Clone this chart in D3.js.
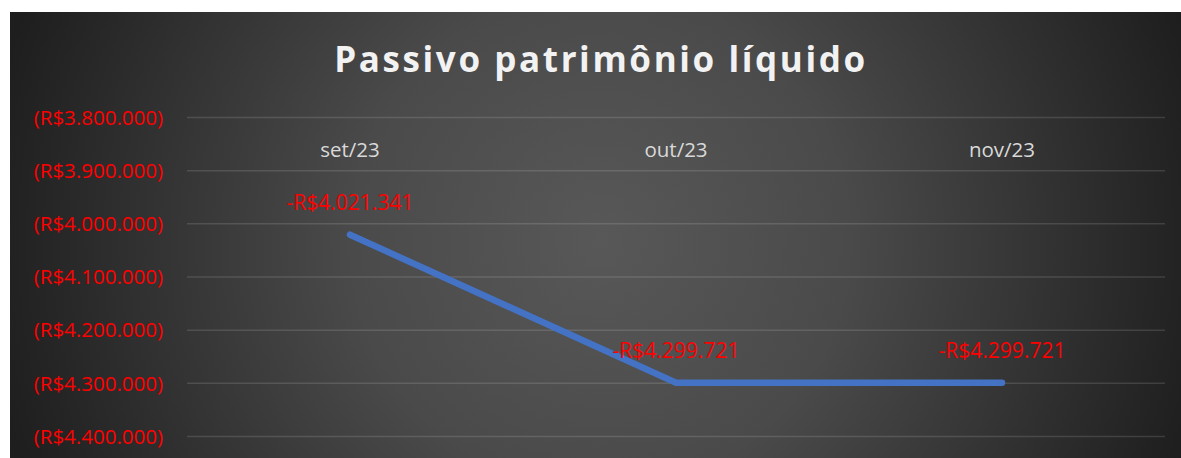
<!DOCTYPE html>
<html>
<head>
<script src="https://d3js.org/d3.v7.min.js"></script>
<style>
  body { margin: 0; background: #fff; }
  text { font-family: "Open Sans", "Noto Sans", sans-serif; }
</style>
</head>
<body>
<script>

var months = ["set/23", "out/23", "nov/23"];
var values = [-4021341, -4299721, -4299721];
var yTicks = [-3800000, -3900000, -4000000, -4100000, -4200000, -4300000, -4400000];
var chartTitle = "Passivo patrimônio líquido";

var W = 1181, H = 458;
var plot = {left: 187, right: 1165, top: 117, bottom: 436};

var svg = d3.select("body").append("svg")
    .attr("width", W)
    .attr("height", H);

// radial background like the excel style
var defs = svg.append("defs");
var grad = defs.append("radialGradient")
    .attr("id", "bg")
    .attr("gradientUnits", "userSpaceOnUse")
    .attr("cx", 600).attr("cy", 240).attr("r", 620);
grad.append("stop").attr("offset", "0%").attr("stop-color", "#585858");
grad.append("stop").attr("offset", "40%").attr("stop-color", "#4a4a4a");
grad.append("stop").attr("offset", "100%").attr("stop-color", "#1e1e1e");

svg.append("rect")
    .attr("x", 10).attr("y", 12)
    .attr("width", W - 10).attr("height", H - 12)
    .attr("fill", "url(#bg)");

var x = d3.scaleBand()
    .domain(months)
    .range([plot.left, plot.right]);

var y = d3.scaleLinear()
    .domain([-3800000, -4400000])
    .range([plot.top, plot.bottom]);

var fmtNum = d3.formatLocale({decimal: ",", thousands: ".", grouping: [3], currency: ["R$", ""]});
var fmt = fmtNum.format(",.0f");

// grid lines + y labels
var yAxis = d3.axisLeft(y)
    .tickValues(yTicks)
    .tickSize(-(plot.right - plot.left))
    .tickPadding(24)
    .tickFormat(function(d) { return "(R$" + fmt(Math.abs(d)) + ")"; });

var gy = svg.append("g")
    .attr("transform", "translate(" + plot.left + ",0)")
    .call(yAxis);
gy.select(".domain").remove();
gy.selectAll(".tick line")
    .attr("stroke", "#ffffff")
    .attr("stroke-opacity", 0.13)
    .attr("stroke-width", 1.5);
gy.selectAll(".tick text")
    .attr("fill", "#ff0000")
    .attr("font-size", 20.5)
    .attr("dy", "0.35em");

// category labels (axis sits on top since values are negative)
var xAxis = d3.axisTop(x).tickSize(0).tickPadding(0);
var gx = svg.append("g")
    .attr("transform", "translate(0,157)")
    .call(xAxis);
gx.select(".domain").remove();
gx.selectAll(".tick text")
    .attr("fill", "#d9d9d9")
    .attr("font-size", 20.5)
    .attr("dy", 0);

var line = d3.line()
    .x(function(d, i) { return x(months[i]) + x.bandwidth() / 2; })
    .y(function(d) { return y(d); });

svg.append("path")
    .datum(values)
    .attr("d", line)
    .attr("fill", "none")
    .attr("stroke", "#4472c4")
    .attr("stroke-width", 6.5)
    .attr("stroke-linecap", "round")
    .attr("stroke-linejoin", "miter");

svg.selectAll(".lbl")
    .data(values).enter()
    .append("text")
    .attr("class", "lbl")
    .attr("x", function(d, i) { return x(months[i]) + x.bandwidth() / 2; })
    .attr("y", function(d) { return y(d) - 25; })
    .attr("text-anchor", "middle")
    .attr("fill", "#ff0000")
    .attr("font-size", 21)
    .text(function(d) { return "-R$" + fmt(Math.abs(d)); });

svg.append("text")
    .attr("x", 601)
    .attr("y", 72)
    .attr("text-anchor", "middle")
    .attr("fill", "#f2f2f2")
    .attr("font-size", 35)
    .attr("font-weight", "bold")
    .attr("letter-spacing", 2.6)
    .text(chartTitle);

</script>
</body>
</html>
